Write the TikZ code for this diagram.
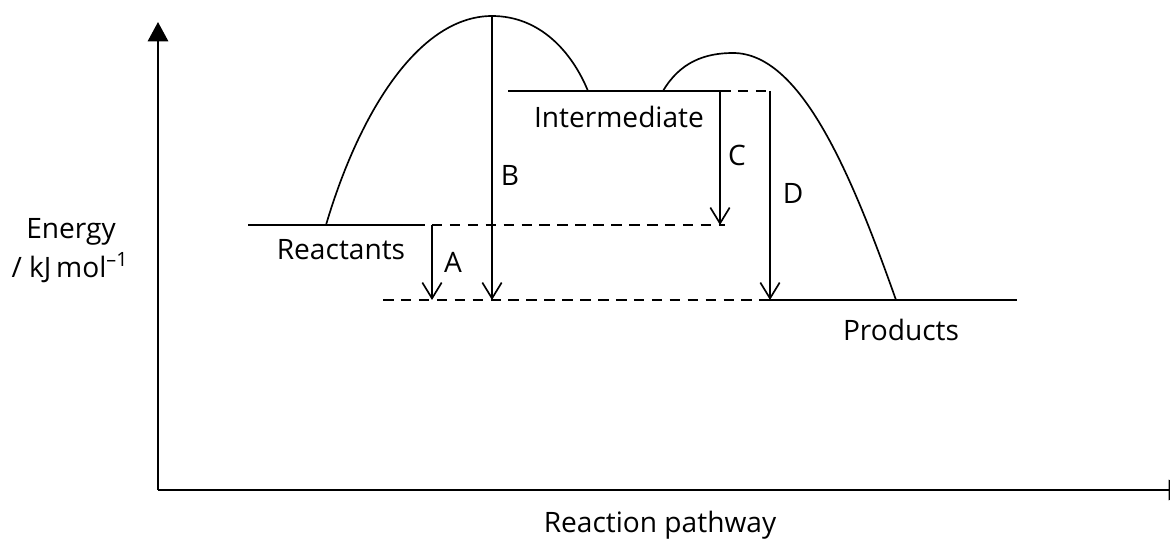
\documentclass[tikz,border=0pt]{standalone}
\usepackage{fontspec}
\setmainfont{Open Sans}
\usetikzlibrary{arrows.meta}
\tikzset{
  level/.style={line width=0.95pt},
  gap/.style={line width=0.95pt, dash pattern=on 6pt off 4.2pt},
  drop/.style={line width=0.95pt, -{Straight Barb[length=9pt, width=11pt, line width=0.95pt]}},
  axis/.style={line width=1.4pt, -{Triangle[length=11pt, width=11.5pt]}},
  lbl/.style={font=\fontsize{16}{18}\selectfont, inner sep=0pt}
}
\begin{document}
\begin{tikzpicture}[x=0.02cm, y=-0.02cm]
  \useasboundingbox (0,0) rectangle (1170,540);
  % axes
  \coordinate (origin) at (158,490);
  \coordinate (ytop) at (158,22);
  \coordinate (xend) at (1188,490);
  \begin{scope}
    \clip (0,0) rectangle (1170,540);
    \draw[axis] (origin) -- (ytop);
    \draw[axis] (origin) -- (xend);
  \end{scope}
  % energy levels
  \coordinate (r1) at (248,225);  \coordinate (r2) at (414,225);
  \coordinate (i1) at (508,91);   \coordinate (i2) at (720,91);
  \coordinate (p1) at (770,300);  \coordinate (p2) at (1017,300);
  \coordinate (c0) at (725,225);  \coordinate (p0) at (383,300);
  \coordinate (d0) at (770,91);
  \draw[level] (r1) -- (r2);
  \draw[level] (i1) -- (i2);
  \draw[level] (p1) -- (p2);
  \draw[gap] (r2) -- (c0);
  \draw[gap] (p0) -- (p1);
  \draw[gap] (i2) -- (d0);
  % humps
  \draw[level] (326,225) .. controls (360,110) and (420,16) .. (492,16)
    .. controls (540,16) and (572,52) .. (588,91);
  \draw[level] (663,91) .. controls (680,62) and (705,53) .. (733,53)
    .. controls (800,53) and (850,170) .. (896,300);
  % differences
  \coordinate (a1) at (432,225); \coordinate (a2) at (432,300);
  \coordinate (b1) at (492,16);  \coordinate (b2) at (492,300);
  \coordinate (c1) at (720,91);  \coordinate (c2) at (720,225);
  \draw[drop] (a1) -- (a2);
  \draw[drop] (b1) -- (b2);
  \draw[drop] (c1) -- (c2);
  \draw[drop] (d0) -- (p1);
  % labels
  \node[lbl] (la) at (453,262) {A};
  \node[lbl] (lb) at (510,175) {B};
  \node[lbl] (lc) at (737,155) {C};
  \node[lbl] (ld) at (793,193) {D};
  \node[lbl] (reac) at (341,250) {Reactants};
  \node[lbl] (inter) at (619,117) {Intermediate};
  \node[lbl] (prod) at (901,330) {Products};
  \node[lbl] (en) at (71,232) {Energy};
  \node[lbl] (unit) at (70,268) {/ kJ\,mol\textsuperscript{–1}};
  \node[lbl] (path) at (660,525) {Reaction pathway};
\end{tikzpicture}
\end{document}
